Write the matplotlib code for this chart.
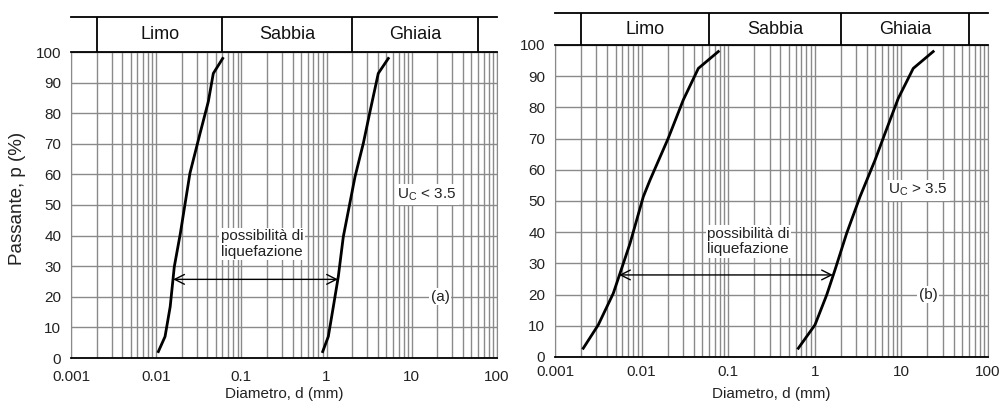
import matplotlib
matplotlib.use('Agg')
import matplotlib.pyplot as plt
from matplotlib.ticker import LogLocator, FixedLocator, NullFormatter

plt.rcParams['font.family'] = ['Liberation Sans', 'DejaVu Sans']

# curva (a): limiti fine e grosso
a_fine_d = [0.0106, 0.0127, 0.0146, 0.0163, 0.0192, 0.0249, 0.0327, 0.0409, 0.0468, 0.0603]
a_fine_p = [2.1, 7.0, 16.8, 29.8, 40.7, 60.4, 73.4, 83.8, 93.0, 97.9]
a_coarse_d = [0.90, 1.047, 1.2, 1.372, 1.57, 2.154, 2.70, 3.23, 4.04, 5.30]
a_coarse_p = [2.1, 7.0, 16.8, 26.6, 39.6, 59.2, 70.2, 80.5, 93.0, 97.9]

# curva (b)
b_fine_d = [0.00212, 0.00316, 0.00471, 0.00563, 0.00735, 0.01047, 0.0125, 0.0203, 0.0303, 0.0452, 0.0769]
b_fine_p = [2.8, 10.3, 20.4, 26.8, 36.4, 51.4, 56.7, 70.1, 82.4, 92.5, 97.9]
b_coarse_d = [0.645, 1.005, 1.372, 1.71, 2.33, 3.33, 4.96, 6.47, 9.2, 13.7, 23.3]
b_coarse_p = [2.8, 10.3, 19.9, 27.9, 39.6, 51.4, 63.1, 71.7, 82.9, 92.5, 97.9]

# classi granulometriche
class_edges = [0.002, 0.06, 2, 60]
class_names = ['Limo', 'Sabbia', 'Ghiaia']

xticks = [0.001, 0.01, 0.1, 1, 10, 100]
xticklabels = ['0.001', '0.01', '0.1', '1', '10', '100']
yticks = list(range(0, 101, 10))

W, H = 1000, 407
fig = plt.figure(figsize=(W / 100, H / 100), dpi=100)


def frac(x0, x1, ytop, ybot):
    return [x0 / W, (H - ybot) / H, (x1 - x0) / W, (ybot - ytop) / H]


def panel(box, hbox, fine_d, fine_p, coarse_d, coarse_p, arrow, txt, uc, tag,
          xpad, xlab_y, ylabel):
    ax = fig.add_axes(box)
    ax.set_xscale('log')
    ax.set_xlim(0.001, 100)
    ax.set_ylim(0, 100)
    ax.xaxis.set_major_locator(FixedLocator(xticks))
    ax.set_xticklabels(xticklabels)
    ax.xaxis.set_minor_locator(LogLocator(base=10, subs=range(2, 10), numticks=20))
    ax.xaxis.set_minor_formatter(NullFormatter())
    ax.set_yticks(yticks)
    ax.grid(which='both', axis='x', color='#8a8a8a', linewidth=1)
    ax.grid(which='major', axis='y', color='#8a8a8a', linewidth=1)
    ax.tick_params(which='both', length=0, labelsize=11, colors='#222222')
    ax.tick_params(axis='x', pad=xpad)
    ax.tick_params(axis='y', pad=7)
    for s in ['left', 'right']:
        ax.spines[s].set_color('#8a8a8a')
    ax.spines['bottom'].set_linewidth(1.3)
    ax.spines['top'].set_linewidth(1.3)

    ax.plot(fine_d, fine_p, color='black', linewidth=2)
    ax.plot(coarse_d, coarse_p, color='black', linewidth=2)

    ax.annotate('', xy=(arrow[1], arrow[2]), xytext=(arrow[0], arrow[2]),
                arrowprops=dict(arrowstyle='<->,head_length=0.7,head_width=0.35',
                                color='black', linewidth=1, shrinkA=0, shrinkB=0))
    ax.text(txt[0], txt[1], 'possibilità di\nliquefazione', fontsize=11,
            ha='center', va='center', linespacing=1.15, color='#222222',
            bbox=dict(facecolor='white', edgecolor='none', pad=1))
    ax.text(uc[0], uc[1], uc[2], fontsize=11, ha='center', va='center',
            color='#222222', bbox=dict(facecolor='white', edgecolor='none', pad=1.5))
    ax.text(tag[0], tag[1], tag[2], fontsize=11, ha='center', va='center',
            color='#222222', bbox=dict(facecolor='white', edgecolor='none', pad=1))
    ax.set_xlabel('Diametro, d (mm)', fontsize=11, color='#222222')
    ax.xaxis.set_label_coords(0.5, xlab_y)
    if ylabel:
        ax.set_ylabel('Passante, p (%)', fontsize=13.5, color='#222222')
        ax.yaxis.set_label_coords(-0.106, 0.523)

    hx = fig.add_axes(hbox)
    hx.set_xscale('log')
    hx.set_xlim(0.001, 100)
    hx.set_ylim(0, 1)
    hx.set_xticks([])
    hx.set_yticks([])
    hx.minorticks_off()
    for s in ['left', 'right', 'bottom']:
        hx.spines[s].set_visible(False)
    hx.spines['top'].set_linewidth(1.3)
    for e in class_edges:
        hx.axvline(e, color='black', linewidth=1.3)
    for i, name in enumerate(class_names):
        xc = (class_edges[i] * class_edges[i + 1]) ** 0.5
        hx.text(xc, 0.5, name, fontsize=13, ha='center', va='center', color='#111111')
    hx.patch.set_alpha(0)


panel(frac(71, 497, 52, 358), frac(71, 497, 17, 52),
      a_fine_d, a_fine_p, a_coarse_d, a_coarse_p,
      (0.0158, 1.36, 25.7), (0.175, 37.3),
      (15, 53.3, 'U$_\\mathregular{C}$ < 3.5'), (21.4, 20, '(a)'),
      8.5, -0.095, True)
panel(frac(555, 988, 45, 357), frac(555, 988, 13, 45),
      b_fine_d, b_fine_p, b_coarse_d, b_coarse_p,
      (0.00549, 1.62, 26.3), (0.17, 37),
      (15.6, 53.5, 'U$_\\mathregular{C}$ > 3.5'), (20.3, 20, '(b)'),
      6, -0.095, False)

fig.savefig('out.png', dpi=100)
